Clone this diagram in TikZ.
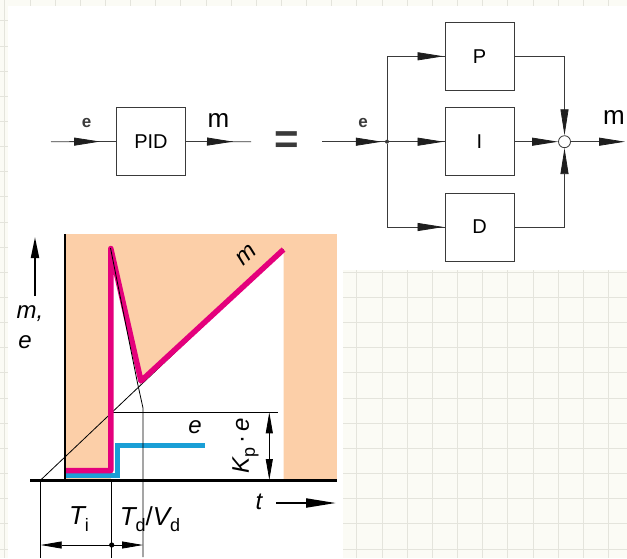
\documentclass[tikz,border=0pt]{standalone}
\usepackage{fontspec}
\setmainfont{Liberation Sans}
\usetikzlibrary{arrows.meta,decorations.markings}
\definecolor{peach}{HTML}{FCCFA8}
\definecolor{magentaC}{HTML}{E4007C}
\definecolor{cyanC}{HTML}{1A9FD6}
\definecolor{gridC}{HTML}{E4E4DC}
\definecolor{paper}{HTML}{FBFBF5}
\definecolor{lineC}{HTML}{3A3A3A}
\definecolor{tipC}{HTML}{1E1E1E}
\newcommand\mysub[1]{\raisebox{-0.25em}{\fontsize{18}{18}\selectfont\upshape #1}}
\tikzset{
  bigtip/.tip={Triangle[length=26pt,width=8pt,color=tipC]},
  conn/.style={draw=lineC, line width=0.8pt},
  marrow/.style={postaction={decorate,decoration={markings,mark=at position #1 with {\arrow{bigtip}}}}},
  block/.style={draw=lineC, line width=0.9pt, minimum width=69pt, minimum height=68pt, inner sep=0pt, font=\fontsize{20}{20}\selectfont},
  sig/.style={inner sep=0pt, font=\fontsize{17}{17}\selectfont\bfseries, text=lineC},
  outm/.style={inner sep=0pt, font=\fontsize{26}{26}\selectfont},
  plab/.style={inner sep=0pt, font=\fontsize{24}{24}\selectfont\itshape},
  tlab/.style={inner sep=0pt, font=\fontsize{26}{26}\selectfont\itshape},
  thin/.style={draw=black, line width=0.8pt},
  dimtip/.tip={Triangle[length=21pt,width=7pt]},
}
\begin{document}
\begin{tikzpicture}[x=1pt,y=-1pt]
\useasboundingbox (0,0) rectangle (627,558);
% graph paper background
\fill[paper] (0,0) rectangle (627,558);
\foreach \i in {0,...,25} \draw[gridC, line width=0.7pt] ({4.7+25.15*\i},0) -- ({4.7+25.15*\i},558);
\foreach \i in {0,...,23} \draw[gridC, line width=0.7pt] (0,{-4.45+25.15*\i}) -- (627,{-4.45+25.15*\i});
\fill[white] (8,6) rectangle (627,270);
\fill[white] (8,270) rectangle (343,558);

% ---------- top left: PID block ----------
\node[block] (pid) at (151,141.5) {PID};
\coordinate (in1) at (51,141.7);
\coordinate (out1) at (251,141.7);
\draw[conn, marrow=-16pt] (in1) -- (pid.west);
\draw[conn, marrow=-18pt] (pid.east) -- (out1);
\node[sig] (e1) at (86.5,123) {e};
\node[outm] (m1) at (218.5,120) {m};
\node[inner sep=0pt, font=\fontsize{42}{42}\selectfont\bfseries, text=lineC] (eq) at (287,143) {=};

% ---------- top right: parallel P, I, D ----------
\coordinate (in2) at (322,141.7);
\node[circle, fill=lineC, inner sep=0pt, minimum size=4pt] (j) at (387,141.7) {};
\node[block] (P) at (479.5,56.3) {P};
\node[block] (I) at (479.5,141.7) {I};
\node[block] (D) at (479.5,227) {D};
\node[circle, draw=lineC, line width=0.8pt, fill=white, inner sep=0pt, minimum size=12pt] (s) at (564.5,141.7) {};
\coordinate (out2) at (625,141.7);
\draw[conn, marrow=-3pt] (in2) -- (j);
\draw[conn, marrow=-1pt] (j) |- (P.west);
\draw[conn, marrow=-1pt] (j) -- (I.west);
\draw[conn, marrow=-1pt] (j) |- (D.west);
\draw[conn, -{bigtip}] (P.east) -| (s.north);
\draw[conn, -{bigtip}] (I.east) -- (s.west);
\draw[conn, -{bigtip}] (D.east) -| (s.south);
\draw[conn, -{bigtip}] (s.east) -- (out2);
\node[sig] (e2) at (363,123) {e};
\node[outm] (m2) at (614,117) {m};

% ---------- bottom: step response ----------
\fill[peach] (65,234) rectangle (337,480);
\fill[white] (110.8,480) -- (110.8,249) -- (139,383) -- (283.5,249.5) -- (283.5,480) -- cycle;
% ramp (integral) line
\draw[thin] (40.7,480) -- (283.5,249.5);
% Kp e level line
\draw[thin] (111.7,412.3) -- (277.5,412.3);
% e (blue step)
\draw[cyanC, line width=5pt, line join=miter] (65,475.8) -- (117.5,475.8) -- (117.5,445.5) -- (205,445.5);
% m (magenta)
\draw[magentaC, line width=5.5pt, line join=round, line cap=butt] (65,470.5) -- (110.8,470.5) -- (110.8,248.5) -- (141,381) -- (283.5,249.5);
% derivative decay line and Td/Vd extension
\draw[thin] (110.5,248) -- (137.5,383) -- (143,408) -- (143,557);
% axes
\draw[black, line width=2.6pt] (65,234) -- (65,480);
\draw[black, line width=3pt] (30,480) -- (337,480);
% y-axis arrow
\coordinate (ya0) at (35,296);
\coordinate (ya1) at (35,237);
\draw[black, line width=2pt, -{Triangle[length=21pt,width=8pt]}] (ya0) -- (ya1);
% t arrow
\coordinate (ta0) at (276,503);
\coordinate (ta1) at (336,503);
\draw[black, line width=2pt, -{Triangle[length=30pt,width=9pt]}] (ta0) -- (ta1);
% Kp e dimension
\coordinate (k0) at (269.3,412.3);
\coordinate (k1) at (269.3,480);
\draw[thin, {dimtip}-{dimtip}] (k0) -- (k1);
% Ti and Td/Vd dimension
\draw[thin] (40.7,480) -- (40.7,558);
\draw[thin] (111.7,480) -- (111.7,558);
\coordinate (d0) at (40.7,545);
\coordinate (d2) at (143,545);
\coordinate (d1) at (111.7,545);
\draw[thin, {dimtip}-{dimtip}] (d0) -- (d2);
\fill[black] (d1) circle (2.6pt);
% labels
\node[plab] (lm) at (30,314) {m,};
\node[plab] (le) at (25,342) {e};
\node[plab, rotate=43] (lmc) at (246,255) {m};
\node[plab] (lec) at (195,427) {e};
\node[plab, rotate=90] (lk) at (245.5,446) {K\mysub{p}\,\upshape·\,\itshape e};
\node[plab] (lt) at (259,502) {t};
\node[tlab] (lti) at (79,519) {T\mysub{i}};
\node[tlab] (ltd) at (150,519) {T\mysub{d}\upshape/\itshape V\mysub{d}};
\end{tikzpicture}
\end{document}
